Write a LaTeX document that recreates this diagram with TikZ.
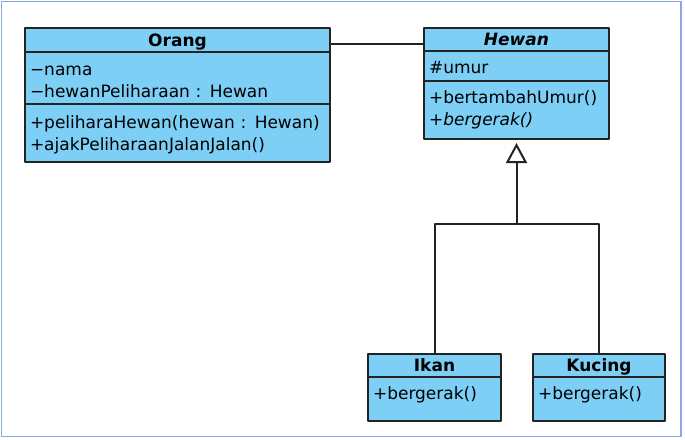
\documentclass[tikz,border=0pt]{standalone}
\usepackage{fontspec}
\setmainfont{DejaVu Sans}
\usetikzlibrary{positioning,arrows.meta}
\definecolor{umlblue}{RGB}{125,207,246}
\definecolor{frameblue}{RGB}{140,168,228}
\definecolor{umlline}{RGB}{35,35,35}
\begin{document}
\begin{tikzpicture}[x=1pt, y=-1pt, line join=round,
    classbox/.style={draw=umlline, line width=2.2pt, fill=umlblue, outer sep=0pt,
      inner xsep=5pt, inner ysep=0pt, font=\fontsize{17}{22}\selectfont},
    classhead/.style={classbox, align=center, text height=12pt, text depth=0pt},
    classpart/.style={classbox, align=left},
    conn/.style={draw=umlline, line width=2pt}]

  \useasboundingbox (0,0) rectangle (685,439);
  \draw[frameblue, line width=1.5pt] (1.5,1.5) rectangle (681,436.5);

  % Orang
  \node[classhead, text width=295pt, minimum height=24pt] (orangHead) at (177.5,40) {\textbf{Orang}};
  \node[classpart, text width=295pt, minimum height=52pt, text height=18pt, below=0pt of orangHead] (orangAttr)
    {−nama\\−hewanPeliharaan : Hewan};
  \node[classpart, text width=295pt, minimum height=58pt, text height=16pt, below=0pt of orangAttr] (orangOps)
    {+peliharaHewan(hewan : Hewan)\\+ajakPeliharaanJalanJalan()};

  % Hewan (abstract)
  \node[classhead, text width=175pt, minimum height=23pt] (hewanHead) at (516.5,39.5) {\textbf{\itshape Hewan}};
  \node[classpart, text width=175pt, minimum height=30pt, text height=15pt, below=0pt of hewanHead] (hewanAttr) {\#umur};
  \node[classpart, text width=175pt, minimum height=58pt, below=0pt of hewanAttr] (hewanOps)
    {+bertambahUmur()\\\textit{+bergerak()}};

  % Ikan, Kucing
  \node[classhead, text width=123pt, minimum height=23pt] (ikanHead) at (434.5,365.5) {\textbf{Ikan}};
  \node[classpart, text width=123pt, minimum height=44pt, text depth=12pt, below=0pt of ikanHead] (ikanOps) {+bergerak()};
  \node[classhead, text width=122pt, minimum height=23pt] (kucingHead) at (599,365.5) {\textbf{Kucing}};
  \node[classpart, text width=122pt, minimum height=44pt, text depth=12pt, below=0pt of kucingHead] (kucingOps) {+bergerak()};

  % association
  \draw[conn] ([yshift=-4pt]orangHead.east) -- ([yshift=-4pt]orangHead.east -| hewanHead.west);

  % generalisation
  \coordinate (split) at (516.5,224);
  \draw[conn] (ikanHead.north) |- (split) -| (kucingHead.north);
  \draw[conn, -{Triangle[open, length=20pt, width=21pt]}, shorten >=4pt] (split) -- (hewanOps.south);
\end{tikzpicture}
\end{document}
